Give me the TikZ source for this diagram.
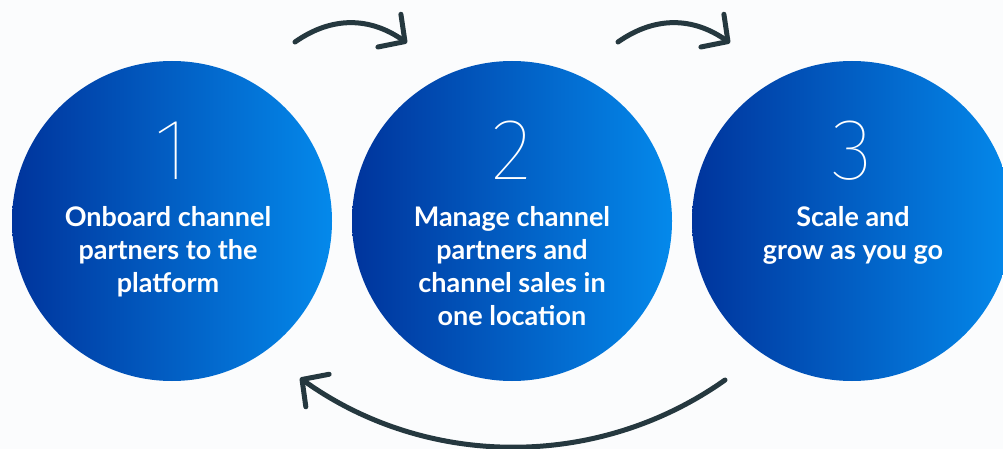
\documentclass[tikz,border=0pt]{standalone}
\usepackage{fontspec}
\setmainfont{Lato}
\newfontfamily\numfont{Fira Sans}[UprightFont={* Thin}]
\usetikzlibrary{arrows.meta}

\definecolor{pagebg}{HTML}{FBFCFD}
\definecolor{blueL}{HTML}{00349C}
\definecolor{blueR}{HTML}{0489EB}
\definecolor{arrowcol}{HTML}{25383F}

\tikzset{
  stepcircle/.style={circle, minimum size=320pt, inner sep=0pt,
    left color=blueL, right color=blueR, draw=none},
  stepnum/.style={text=white, inner sep=0pt, anchor=base,
    font=\numfont\fontsize{87}{87}\selectfont},
  steptext/.style={text=white, inner sep=0pt, anchor=north, align=center,
    font=\bfseries\fontsize{27}{33}\selectfont},
  flow/.style={draw=arrowcol, line width=5pt, line cap=round,
    -{Straight Barb[length=19pt,width=40pt,round]}},
}

\begin{document}
\begin{tikzpicture}[x=1pt,y=-1pt]
\useasboundingbox (0,0) rectangle (1003,449);
\fill[pagebg] (0,0) rectangle (1003,449);

% the three step discs
\node[stepcircle] (c1) at (172,221) {};
\node[stepcircle] (c2) at (512,221) {};
\node[stepcircle] (c3) at (852,221) {};

% step numbers
\node[stepnum] (n1) at (172,180) {1};
\node[stepnum] (n2) at (512,180) {2};
\node[stepnum] (n3) at (852,180) {3};

% step descriptions
\node[steptext] (t1) at (168,206) {Onboard channel\\partners to the\\platform};
\node[steptext] (t2) at (512,206) {Manage channel\\partners and\\channel sales in\\one location};
\node[steptext] (t3) at (853,206) {Scale and\\grow as you go};

% end points of the curved arrows
\coordinate (a1s) at (295,42);
\coordinate (a1e) at (407,43);
\coordinate (a2s) at (618,42);
\coordinate (a2e) at (730,43);
\coordinate (a3s) at (725,380);
\coordinate (a3e) at (300,378);

\draw[flow] (a1s) .. controls (332,16) and (370,17) .. (a1e);
\draw[flow] (a2s) .. controls (655,16) and (693,17) .. (a2e);
\draw[flow] (a3s) .. controls (598,470) and (427,469) .. (a3e);
\end{tikzpicture}
\end{document}
